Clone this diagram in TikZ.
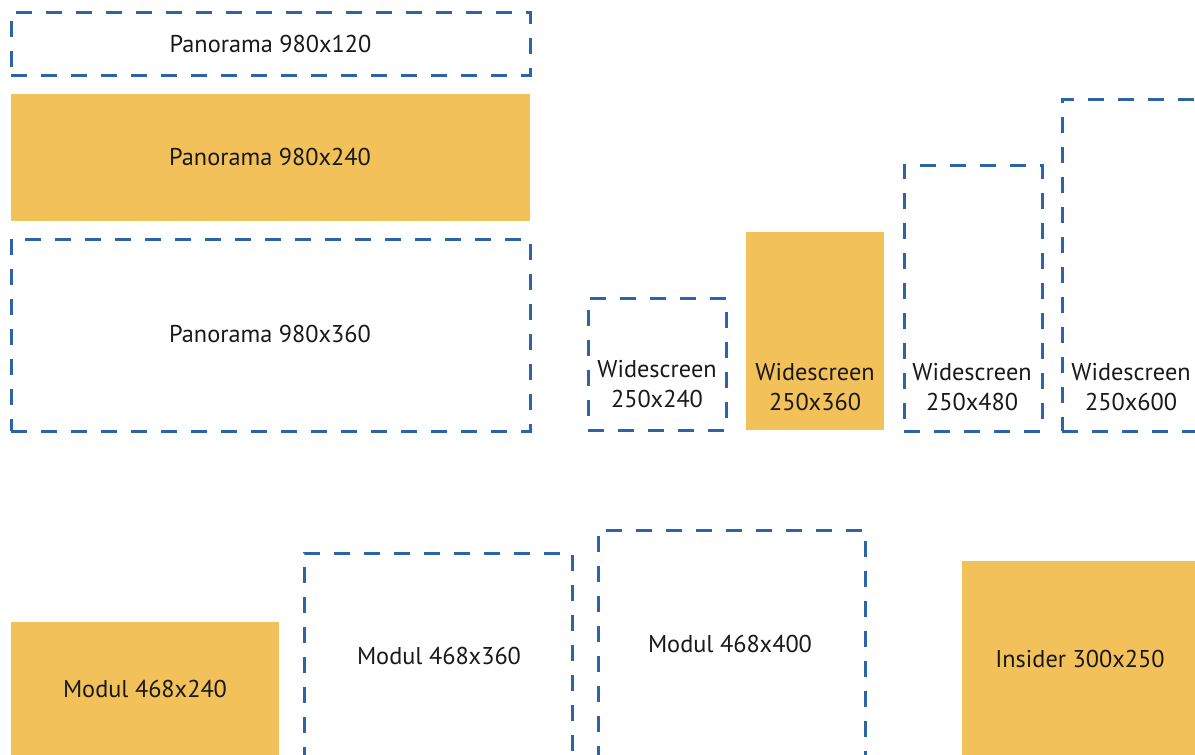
\documentclass[tikz,border=0pt]{standalone}
\usepackage{fontspec}
\setmainfont{PT Sans}
\definecolor{dashblue}{HTML}{2B64A8}
\definecolor{adfill}{HTML}{F3C15A}
\tikzset{
  dbox/.style={draw=dashblue, line width=3pt, dash pattern=on 16pt off 14pt, rectangle, inner sep=0pt},
  fbox/.style={fill=adfill, draw=none, rectangle, inner sep=0pt},
  lbl/.style={font=\fontsize{24.3}{30}\selectfont, text=black!90, align=center, inner sep=0pt}
}
\begin{document}
\begin{tikzpicture}[x=1pt,y=-1pt]
\useasboundingbox (0,0) rectangle (1195,755);
\clip (0,0) rectangle (1195,755);
% Panorama row
\node[dbox, minimum width=519pt, minimum height=63pt] (p120) at (270.5,43.5) {};
\node[lbl] (p120t) at (p120.center) {Panorama 980x120};
\node[fbox, minimum width=519pt, minimum height=127pt] (p240) at (270.5,157.5) {};
\node[lbl] (p240t) at (270,157) {Panorama 980x240};
\node[dbox, minimum width=519pt, minimum height=192pt] (p360) at (270.5,335) {};
\node[lbl] (p360t) at (270,334) {Panorama 980x360};
% Widescreen
\node[dbox, minimum width=138pt, minimum height=132pt] (w240) at (657,364) {};
\node[lbl] (w240t) at (657,384) {Widescreen\\250x240};
\node[fbox, minimum width=138pt, minimum height=198pt] (w360) at (815,331) {};
\node[lbl] (w360t) at (815,387) {Widescreen\\250x360};
\node[dbox, minimum width=138pt, minimum height=266pt] (w480) at (973,298) {};
\node[lbl] (w480t) at (972,387) {Widescreen\\250x480};
\node[dbox, minimum width=140pt, minimum height=332pt] (w600) at (1132,265) {};
\node[lbl] (w600t) at (1131,387) {Widescreen\\250x600};
% Modul
\node[fbox, minimum width=268pt, minimum height=180pt] (m240) at (145,712) {};
\node[lbl] (m240t) at (145,689) {Modul 468x240};
\node[dbox, minimum width=268pt, minimum height=260pt] (m360) at (438,683) {};
\node[lbl] (m360t) at (439,656) {Modul 468x360};
\node[dbox, minimum width=267pt, minimum height=300pt] (m400) at (731.5,680) {};
\node[lbl] (m400t) at (730,644) {Modul 468x400};
\node[fbox, minimum width=260pt, minimum height=240pt] (ins) at (1092,681) {};
\node[lbl] (inst) at (1080,659) {Insider 300x250};
\end{tikzpicture}
\end{document}
